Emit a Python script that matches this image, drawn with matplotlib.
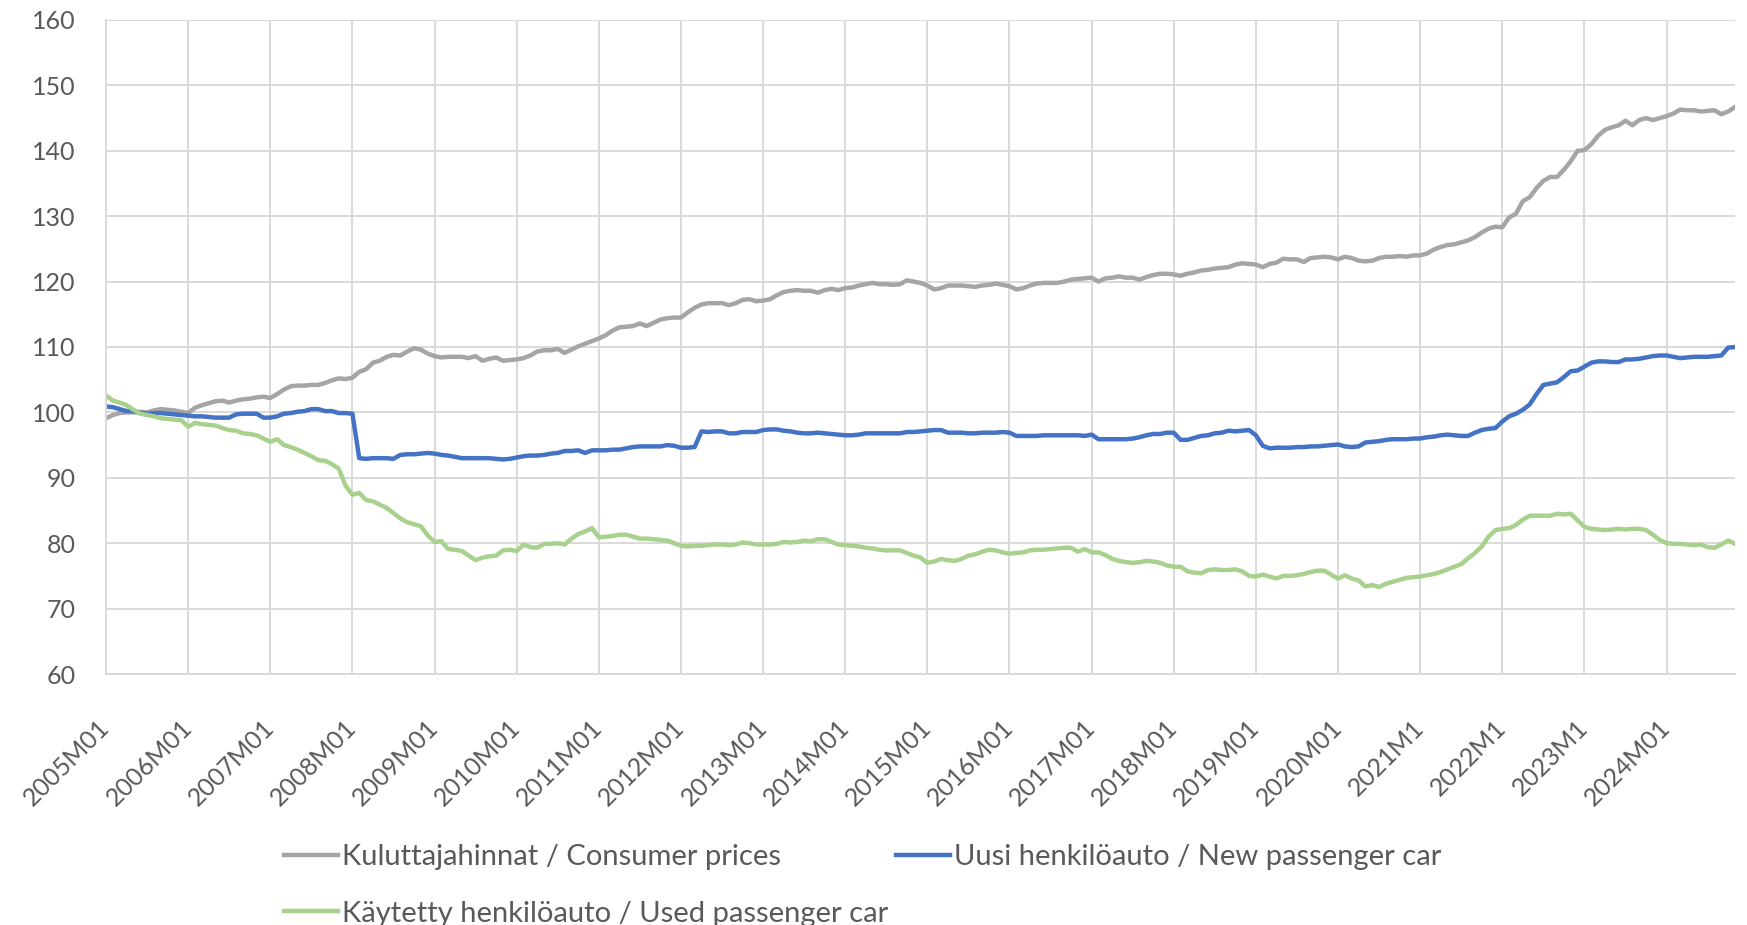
"""Consumer prices vs new and used passenger car price indices, 2005=100."""

import matplotlib

matplotlib.use("Agg")
import matplotlib.pyplot as plt

# monthly index values, 2005M01 .. 2024M11
cpi = [
    99.1, 99.6, 99.9, 100.0, 100.0, 100.1, 100.0, 100.3, 100.5, 100.4, 100.3, 100.1,  # 2005
    99.9, 100.7, 101.1, 101.4, 101.7, 101.8, 101.5, 101.8, 102.0, 102.1, 102.3, 102.4,  # 2006
    102.2, 102.8, 103.5, 104.0, 104.1, 104.1, 104.2, 104.2, 104.5, 104.9, 105.2, 105.1,  # 2007
    105.3, 106.2, 106.6, 107.6, 107.9, 108.5, 108.8, 108.7, 109.3, 109.8, 109.6, 109.0,  # 2008
    108.6, 108.4, 108.5, 108.5, 108.5, 108.3, 108.6, 107.9, 108.2, 108.4, 107.9, 108.0,  # 2009
    108.1, 108.3, 108.7, 109.3, 109.5, 109.5, 109.7, 109.1, 109.6, 110.1, 110.5, 110.9,  # 2010
    111.3, 111.8, 112.5, 113.0, 113.1, 113.2, 113.6, 113.2, 113.7, 114.2, 114.4, 114.5,  # 2011
    114.5, 115.3, 116.0, 116.5, 116.7, 116.7, 116.7, 116.4, 116.7, 117.2, 117.3, 117.0,  # 2012
    117.1, 117.3, 117.9, 118.4, 118.6, 118.7, 118.6, 118.6, 118.3, 118.7, 118.9, 118.7,  # 2013
    119.0, 119.1, 119.4, 119.6, 119.8, 119.6, 119.6, 119.5, 119.6, 120.2, 120.0, 119.8,  # 2014
    119.4, 118.8, 119.0, 119.4, 119.4, 119.4, 119.3, 119.2, 119.4, 119.5, 119.7, 119.5,  # 2015
    119.3, 118.8, 119.0, 119.4, 119.7, 119.8, 119.8, 119.8, 120.0, 120.3, 120.4, 120.5,  # 2016
    120.6, 120.0, 120.5, 120.6, 120.8, 120.6, 120.6, 120.3, 120.7, 121.0, 121.2, 121.2,  # 2017
    121.1, 120.9, 121.2, 121.4, 121.7, 121.8, 122.0, 122.1, 122.2, 122.6, 122.8, 122.7,  # 2018
    122.6, 122.2, 122.7, 122.9, 123.5, 123.4, 123.4, 123.0, 123.6, 123.7, 123.8, 123.7,  # 2019
    123.4, 123.8, 123.6, 123.2, 123.1, 123.2, 123.6, 123.8, 123.8, 123.9, 123.8, 124.0,  # 2020
    124.0, 124.3, 124.9, 125.3, 125.6, 125.7, 126.0, 126.3, 126.8, 127.5, 128.1, 128.4,  # 2021
    128.3, 129.8, 130.4, 132.3, 132.9, 134.3, 135.4, 136.0, 136.0, 137.1, 138.4, 140.0,  # 2022
    140.1, 141.0, 142.3, 143.2, 143.6, 143.9, 144.6, 143.9, 144.7, 145.0, 144.7, 145.0,  # 2023
    145.3, 145.7, 146.3, 146.2, 146.2, 146.0, 146.1, 146.2, 145.6, 146.0, 146.7,  # 2024
]

new_car = [
    100.9, 100.8, 100.5, 100.2, 100.2, 99.9, 99.8, 99.9, 99.9, 99.8, 99.7, 99.6,
    99.5, 99.4, 99.4, 99.3, 99.2, 99.2, 99.2, 99.7, 99.8, 99.8, 99.8, 99.2,
    99.2, 99.4, 99.8, 99.9, 100.1, 100.2, 100.5, 100.5, 100.2, 100.2, 99.9, 99.9,
    99.8, 93.0, 92.9, 93.0, 93.0, 93.0, 92.9, 93.5, 93.6, 93.6, 93.7, 93.8,
    93.7, 93.5, 93.4, 93.2, 93.0, 93.0, 93.0, 93.0, 93.0, 92.9, 92.8, 92.9,
    93.1, 93.3, 93.4, 93.4, 93.5, 93.7, 93.8, 94.1, 94.1, 94.2, 93.8, 94.2,
    94.2, 94.2, 94.3, 94.3, 94.5, 94.7, 94.8, 94.8, 94.8, 94.8, 95.0, 94.9,
    94.6, 94.6, 94.7, 97.1, 97.0, 97.1, 97.1, 96.8, 96.8, 97.0, 97.0, 97.0,
    97.3, 97.4, 97.4, 97.2, 97.1, 96.9, 96.8, 96.8, 96.9, 96.8, 96.7, 96.6,
    96.5, 96.5, 96.6, 96.8, 96.8, 96.8, 96.8, 96.8, 96.8, 97.0, 97.0, 97.1,
    97.2, 97.3, 97.3, 96.9, 96.9, 96.9, 96.8, 96.8, 96.9, 96.9, 96.9, 97.0,
    96.9, 96.4, 96.4, 96.4, 96.4, 96.5, 96.5, 96.5, 96.5, 96.5, 96.5, 96.4,
    96.6, 95.9, 95.9, 95.9, 95.9, 95.9, 96.0, 96.2, 96.5, 96.7, 96.7, 96.9,
    96.9, 95.8, 95.8, 96.1, 96.4, 96.5, 96.8, 96.9, 97.2, 97.1, 97.2, 97.3,
    96.5, 94.9, 94.5, 94.6, 94.6, 94.6, 94.7, 94.7, 94.8, 94.8, 94.9, 95.0,
    95.1, 94.8, 94.7, 94.8, 95.4, 95.5, 95.6, 95.8, 95.9, 95.9, 95.9, 96.0,
    96.0, 96.2, 96.3, 96.5, 96.6, 96.5, 96.4, 96.4, 96.9, 97.3, 97.5, 97.6,
    98.6, 99.4, 99.8, 100.4, 101.2, 102.8, 104.2, 104.4, 104.6, 105.4, 106.3, 106.4,
    107.0, 107.6, 107.8, 107.8, 107.7, 107.7, 108.1, 108.1, 108.2, 108.4, 108.6, 108.7,
    108.7, 108.5, 108.3, 108.4, 108.5, 108.5, 108.5, 108.6, 108.7, 109.9, 110.0,
]

used_car = [
    102.6, 101.8, 101.5, 101.1, 100.4, 99.8, 99.6, 99.4, 99.1, 99.0, 98.9, 98.8,
    97.8, 98.4, 98.2, 98.1, 98.0, 97.6, 97.3, 97.2, 96.8, 96.7, 96.5, 96.0,
    95.5, 95.9, 95.0, 94.7, 94.3, 93.8, 93.3, 92.7, 92.6, 92.1, 91.4, 88.8,
    87.4, 87.7, 86.6, 86.4, 85.9, 85.4, 84.6, 83.8, 83.2, 82.9, 82.6, 81.2,
    80.2, 80.3, 79.1, 79.0, 78.8, 78.1, 77.4, 77.8, 78.0, 78.1, 78.9, 79.0,
    78.8, 79.8, 79.4, 79.3, 79.9, 79.9, 80.0, 79.8, 80.7, 81.4, 81.8, 82.3,
    80.9, 81.0, 81.1, 81.3, 81.3, 81.0, 80.7, 80.7, 80.6, 80.5, 80.4, 80.0,
    79.6, 79.5, 79.6, 79.6, 79.7, 79.8, 79.8, 79.7, 79.8, 80.1, 80.0, 79.8,
    79.8, 79.8, 79.9, 80.2, 80.1, 80.2, 80.4, 80.3, 80.6, 80.6, 80.2, 79.8,
    79.7, 79.6, 79.5, 79.3, 79.2, 79.0, 78.9, 78.9, 78.9, 78.5, 78.1, 77.8,
    77.0, 77.2, 77.6, 77.4, 77.3, 77.6, 78.1, 78.3, 78.7, 79.0, 78.9, 78.6,
    78.4, 78.5, 78.6, 78.9, 79.0, 79.0, 79.1, 79.2, 79.3, 79.3, 78.7, 79.1,
    78.6, 78.6, 78.2, 77.6, 77.3, 77.1, 77.0, 77.1, 77.3, 77.2, 77.0, 76.6,
    76.4, 76.4, 75.7, 75.5, 75.4, 75.9, 76.0, 75.9, 75.9, 76.0, 75.7, 75.0,
    74.9, 75.2, 74.9, 74.6, 75.0, 75.0, 75.1, 75.3, 75.6, 75.8, 75.8, 75.2,
    74.6, 75.1, 74.6, 74.3, 73.4, 73.6, 73.3, 73.8, 74.1, 74.4, 74.7, 74.8,
    74.9, 75.1, 75.3, 75.6, 76.0, 76.4, 76.8, 77.7, 78.5, 79.5, 81.0, 82.0,
    82.2, 82.3, 82.8, 83.6, 84.2, 84.2, 84.2, 84.2, 84.5, 84.4, 84.5, 83.5,
    82.5, 82.2, 82.1, 82.0, 82.1, 82.2, 82.1, 82.2, 82.2, 82.0, 81.3, 80.5,
    80.0, 79.9, 79.9, 79.8, 79.7, 79.8, 79.4, 79.3, 79.8, 80.4, 79.9,
]

tick_labels = [
    "2005M01", "2006M01", "2007M01", "2008M01", "2009M01", "2010M01", "2011M01",
    "2012M01", "2013M01", "2014M01", "2015M01", "2016M01", "2017M01", "2018M01",
    "2019M01", "2020M01", "2021M1", "2022M1", "2023M1", "2024M01",
]

series_names = [
    "Kuluttajahinnat / Consumer prices",
    "Uusi henkilöauto / New passenger car",
    "Käytetty henkilöauto / Used passenger car",
]

GRAY = "#a5a5a5"
BLUE = "#4472c4"
GREEN = "#a9d18e"
GRID = "#d9d9d9"
TEXT = "#595959"

plt.rcParams["font.family"] = ["Lato", "DejaVu Sans"]

fig = plt.figure(figsize=(17.47, 9.25), dpi=100)
ax = fig.add_axes([106 / 1747, 1 - 674 / 925, (1735 - 106) / 1747, (674 - 20) / 925])

x = range(len(cpi))
h_cpi, = ax.plot(x, cpi, color=GRAY, lw=3.2, label=series_names[0])
h_new, = ax.plot(x, new_car, color=BLUE, lw=3.2, label=series_names[1])
h_used, = ax.plot(x, used_car, color=GREEN, lw=3.2, label=series_names[2])

ax.set_xlim(0, len(cpi) - 1)
ax.set_ylim(60, 160)
ax.set_yticks(range(60, 161, 10))
ax.set_xticks(range(0, 12 * len(tick_labels), 12))
ax.set_xticklabels(tick_labels, rotation=45, ha="right", va="center", rotation_mode="anchor")

ax.grid(True, color=GRID, lw=1.4)
ax.set_axisbelow(True)
for side in ["top", "right"]:
    ax.spines[side].set_visible(False)
for side in ["left", "bottom"]:
    ax.spines[side].set_color(GRID)
    ax.spines[side].set_linewidth(1.4)
ax.tick_params(axis="both", length=0, labelsize=18, colors=TEXT)
ax.tick_params(axis="y", pad=22)
ax.tick_params(axis="x", pad=36)

# row-wise legend: first column gets CPI and used car, second column new car
fig.legend(
    handles=[h_cpi, h_used, h_new],
    loc="upper left",
    bbox_to_anchor=(284 / 1747, 1 - 844 / 925),
    ncol=2,
    frameon=False,
    fontsize=21,
    handlelength=1.85,
    handletextpad=0.15,
    columnspacing=0.25,
    labelspacing=1.05,
    borderpad=0,
    borderaxespad=0,
    labelcolor=TEXT,
)

fig.savefig("out.png", dpi=100, facecolor="white")
